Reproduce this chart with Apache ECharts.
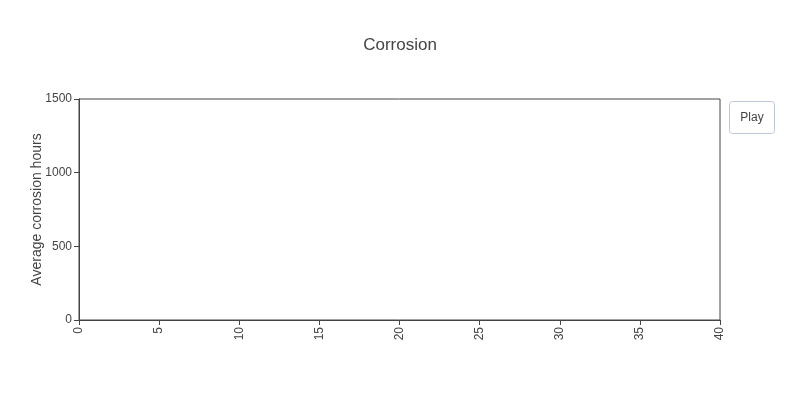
<!DOCTYPE html>
<html>
<head>
<meta charset="utf-8">
<script src="https://cdn.jsdelivr.net/npm/echarts@6/dist/echarts.min.js"></script>
<style>html,body{margin:0;padding:0;background:#fff}#c{width:800px;height:400px}</style>
</head>
<body>
<div id="c"></div>
<script>
var titleText = 'Corrosion';
var yAxisTitle = 'Average corrosion hours';
var xRange = [0, 40];
var xStep = 5;
var yRange = [0, 1500];
var yStep = 500;
// The reference shows an empty frame (first animation frame): no points
var years = [];
var corrosionHours = [];
var buttonLabel = 'Play';

var font = '"Liberation Sans", Arial, sans-serif';
var chart = echarts.init(document.getElementById('c'), null, {renderer: 'canvas'});
chart.setOption({
  animation: false,
  textStyle: {fontFamily: font},
  title: {
    text: titleText, left: 'center', top: 32,
    textStyle: {fontFamily: font, fontSize: 17, fontWeight: 'normal', color: '#444'}
  },
  grid: {left: 79, right: 80, top: 99, bottom: 80, show: true, borderColor: '#444', borderWidth: 1, backgroundColor: 'transparent'},
  xAxis: {
    type: 'value', min: xRange[0], max: xRange[1], interval: xStep,
    axisLine: {show: true, lineStyle: {color: '#444', width: 1}},
    axisTick: {show: true, length: 5, lineStyle: {color: '#444'}},
    axisLabel: {rotate: 90, margin: 7, color: '#444', fontSize: 12, fontFamily: font},
    splitLine: {show: false}
  },
  yAxis: {
    type: 'value', min: yRange[0], max: yRange[1], interval: yStep,
    name: yAxisTitle, nameLocation: 'middle', nameGap: 35, nameMoveOverlap: false,
    nameTextStyle: {color: '#444', fontSize: 14, fontFamily: font},
    axisLine: {show: true, lineStyle: {color: '#444', width: 1}},
    axisTick: {show: true, length: 5, lineStyle: {color: '#444'}},
    axisLabel: {margin: 7, color: '#444', fontSize: 12, fontFamily: font,
      formatter: function (v) { return String(v); }},
    splitLine: {show: false}
  },
  series: [{
    type: 'scatter',
    data: years.map(function (y, i) { return [y, corrosionHours[i]]; })
  }],
  graphic: [{
    type: 'group', left: 729, top: 101,
    children: [
      {type: 'rect', shape: {x: 0.5, y: 0.5, width: 45, height: 32, r: 3},
       style: {fill: '#FFFFFF', stroke: '#BEC8D9', lineWidth: 1}},
      {type: 'text', x: 23, y: 16.5,
       style: {text: buttonLabel, fill: '#444', font: '12px ' + font, align: 'center', verticalAlign: 'middle'}}
    ]
  }]
});
</script>
</body>
</html>
